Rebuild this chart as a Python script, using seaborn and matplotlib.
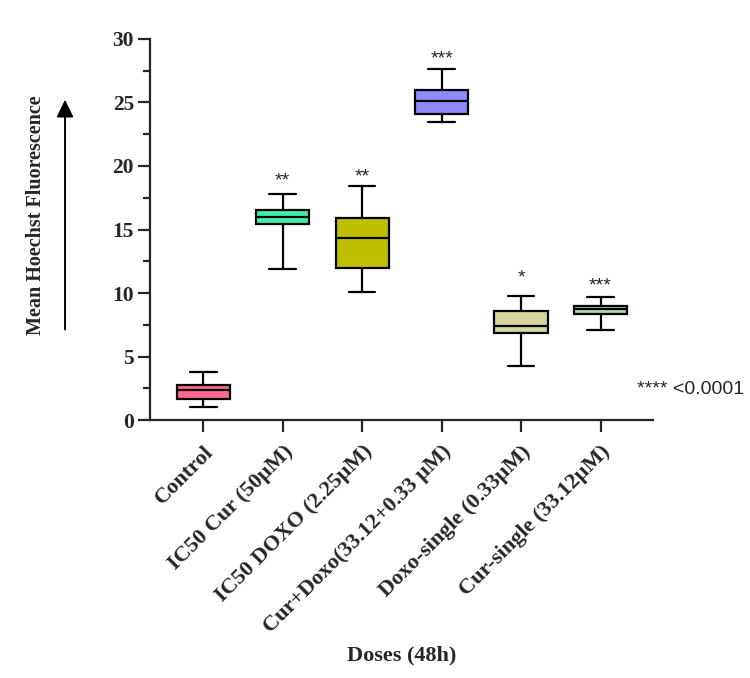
import matplotlib
matplotlib.use("Agg")
import matplotlib.pyplot as plt
import numpy as np
import pandas as pd
import seaborn as sns
from matplotlib.ticker import MultipleLocator

# five-number summaries: min, q1, median, q3, max
doses = [
    "Control",
    "IC50 Cur (50\u00b5M)",
    "IC50 DOXO (2.25\u00b5M)",
    "Cur+Doxo(33.12+0.33 \u00b5M)",
    "Doxo-single (0.33\u00b5M)",
    "Cur-single (33.12\u00b5M)",
]
control = [1.05, 1.65, 2.36, 2.75, 3.75]
ic50_cur = [11.9, 15.4, 16.0, 16.5, 17.8]
ic50_doxo = [10.05, 12.0, 14.35, 15.9, 18.45]
cur_doxo = [23.5, 24.1, 25.1, 25.95, 27.6]
doxo_single = [4.25, 6.82, 7.40, 8.58, 9.76]
cur_single = [7.09, 8.35, 8.72, 9.0, 9.71]

stars = ["", "**", "**", "***", "*", "***"]
star_heights = [0, 18.5, 18.75, 28.1, 10.8, 10.2]

colors = ["#FF6690", "#3FEFAA", "#BFBF00", "#8C8CFF", "#D6D69C", "#A8DCA8"]

groups = [control, ic50_cur, ic50_doxo, cur_doxo, doxo_single, cur_single]
df = pd.DataFrame(
    [(d, v) for d, vals in zip(doses, groups) for v in vals],
    columns=["dose", "value"],
)

sns.set_style("ticks")
plt.rcParams["font.family"] = ["Liberation Serif", "DejaVu Serif"]
plt.rcParams["font.weight"] = "bold"

fig = plt.figure(figsize=(7.5, 6.78), dpi=100)
ax = fig.add_axes([0.2, 0.3805, 0.6707, 0.562])

sns.boxplot(
    data=df, x="dose", y="value", hue="dose", palette=colors,
    order=doses, hue_order=doses, width=0.67, whis=(0, 100),
    linecolor="black", linewidth=1.6, saturation=1, legend=False, ax=ax,
)

for i, (s, h) in enumerate(zip(stars, star_heights)):
    if s:
        ax.text(i, h, s, ha="center", va="baseline", fontsize=14,
                family="Liberation Sans", fontweight="normal")

ax.set_xlim(-0.67, 5.66)
ax.set_ylim(0, 30)
ax.yaxis.set_major_locator(MultipleLocator(5))
ax.yaxis.set_minor_locator(MultipleLocator(2.5))
sns.despine(ax=ax)
for side in ["left", "bottom"]:
    ax.spines[side].set_linewidth(1.6)
ax.tick_params(axis="both", which="major", length=8.6, width=1.6,
               labelsize=15.5, pad=3)
ax.tick_params(axis="y", which="minor", length=5, width=1.6)
ax.tick_params(axis="x", labelsize=16, pad=7)
plt.setp(ax.get_xticklabels(), rotation=45, ha="right",
         rotation_mode="anchor", fontweight="bold")
plt.setp(ax.get_yticklabels(), fontweight="bold")

ax.set_ylabel("")
ax.set_xlabel("Doses (48h)", fontsize=16, fontweight="bold")
ax.xaxis.set_label_coords(0.5, -0.617)
ax.xaxis.label.set_va("center")

fig.text(0.048, 0.683, "Mean Hoechst Fluorescence", rotation=90,
         ha="center", va="center", fontsize=14.5, fontweight="bold")
fig.add_artist(matplotlib.patches.FancyArrowPatch(
    (0.0867, 0.51), (0.0867, 0.857), transform=fig.transFigure,
    arrowstyle="-|>,head_length=7,head_width=3.4", color="black",
    linewidth=1.4, mutation_scale=1.5,
))
fig.text(0.849, 0.426, "**** <0.0001", ha="left", va="center",
         fontsize=14, family="Liberation Sans", fontweight="normal")

fig.savefig("out.png", dpi=100)
